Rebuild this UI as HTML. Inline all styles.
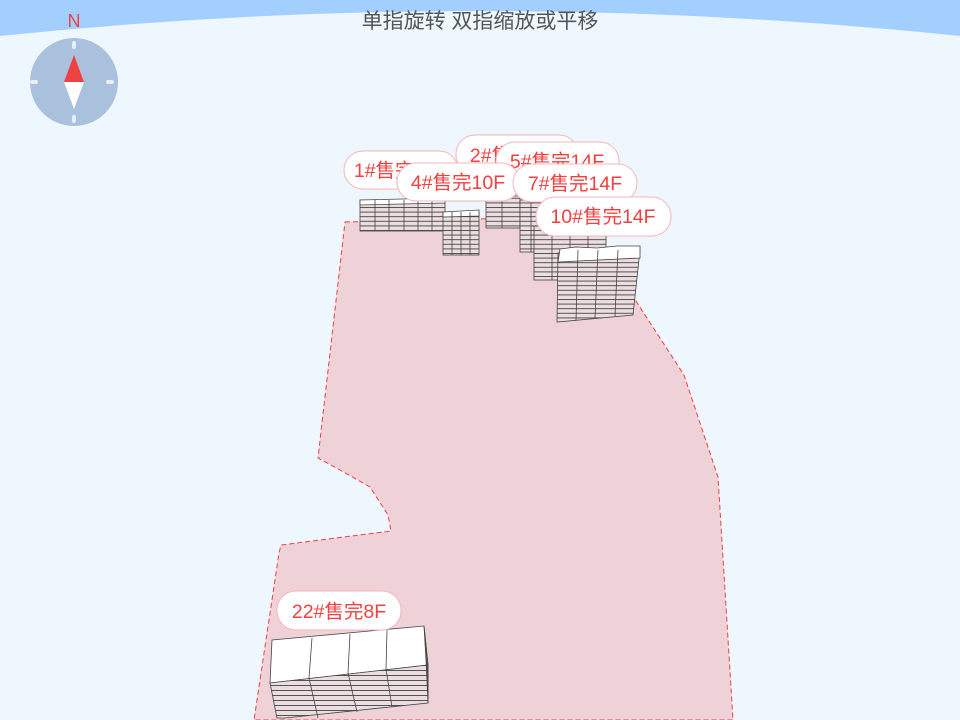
<!DOCTYPE html>
<html><head><meta charset="utf-8"><style>
html,body{margin:0;padding:0;width:960px;height:720px;overflow:hidden;background:#eef6fe;}
.t{font-family:"Liberation Sans","Noto Sans CJK SC",sans-serif;}
</style></head><body>
<svg width="960" height="720" viewBox="0 0 960 720" xmlns="http://www.w3.org/2000/svg">
<defs>
<pattern id="fl" width="12" height="4.6" patternUnits="userSpaceOnUse">
<rect width="12" height="4.6" fill="#ecdde0"/>
<line x1="0" y1="0.5" x2="12" y2="0.5" stroke="#444" stroke-width="0.9"/>
</pattern>
<pattern id="fl2" width="12" height="5" patternUnits="userSpaceOnUse">
<rect width="12" height="5" fill="#ecdde0"/>
<line x1="0" y1="0.5" x2="12" y2="0.5" stroke="#444" stroke-width="0.9"/>
</pattern>
</defs>
<rect width="960" height="720" fill="#eef6fe"/>
<path d="M0 0 H960 V36 Q480 -14 0 36 Z" fill="#a3cfff"/>
<text x="480" y="28" class="t" font-size="21" fill="#555" text-anchor="middle">单指旋转 双指缩放或平移</text>
<!-- compass -->
<text x="74" y="27" class="t" font-size="18" fill="#f04040" text-anchor="middle">N</text>
<circle cx="74" cy="82" r="44" fill="#a9c1dc"/>
<rect x="72" y="41" width="4" height="8" rx="2" fill="#e6eef6"/>
<rect x="72" y="115" width="4" height="8" rx="2" fill="#e6eef6"/>
<rect x="30" y="80" width="8" height="4" rx="2" fill="#e6eef6"/>
<rect x="106" y="80" width="8" height="4" rx="2" fill="#e6eef6"/>
<polygon points="74,55 84,82 64,82" fill="#f04040"/>
<polygon points="64,82 84,82 74,109" fill="#fff"/>
<!-- site -->
<polygon points="345,222 560,217 634,298 684,375 718,477 733,720 254,720 279,553 281,545 391,531 388,515 370,487 340,470 318,458" fill="#efd2d8" stroke="#f04040" stroke-width="1" stroke-dasharray="5,3"/>
<!-- buildings back -->
<g stroke="#444" stroke-width="0.8" fill="none">
<rect x="360" y="200" width="85" height="31" fill="url(#fl)"/>
<polygon points="360,200 445,198 445,203 360,205" fill="#fff"/>
<path d="M375 200V231M389 200V231M404 200V231M418 200V231M432 200V231"/>
<rect x="486" y="196" width="34" height="32" fill="url(#fl)"/>
<path d="M502 196V228"/>
<rect x="520" y="200" width="22" height="52" fill="url(#fl)"/>
<path d="M531 200V252"/>
<rect x="443" y="212" width="36" height="43" fill="url(#fl)"/>
<polygon points="443,212 479,210 479,216 443,217" fill="#fff"/>
<path d="M452 212V255M461 212V255M470 212V255"/>
<rect x="534" y="226" width="72" height="54" fill="url(#fl)"/>
<path d="M552 226V280M570 226V280M588 226V280"/>
<polygon points="558,253 640,250 633,315 557,322" fill="url(#fl)"/>
<polygon points="560,249 576,247 597,248 617,246 640,246 640,258 558,262" fill="#fff"/>
<path d="M578 250L576 320M598 250L595 318M618 250L615 316"/>
<!-- 22 -->
<polygon points="272,640 424,626 428,665 270,683" fill="#fff"/>
<polygon points="270,683 428,665 428,703 285,718 277,718" fill="url(#fl2)"/>
<polygon points="424,626 428,665 428,703 426,660" fill="#555"/>
<path d="M312 638L309 678 318 718M350 634L348 673 357 712M387 630L386 669 392 707"/>
</g>
<!-- labels -->
<g class="t" font-size="19.5" fill="#f04040" text-anchor="middle">
<rect x="344" y="151" width="114" height="38" rx="19" fill="#fff" stroke="#f6b4b8"/><text x="401" y="177">1#售完10F</text>
<rect x="456" y="135" width="122" height="39" rx="19" fill="#fff" stroke="#f6b4b8"/><text x="517" y="162">2#售完14F</text>
<rect x="496" y="142" width="123" height="38" rx="19" fill="#fff" stroke="#f6b4b8"/><text x="557" y="168">5#售完14F</text>
<rect x="397" y="163" width="123" height="38" rx="19" fill="#fff" stroke="#f6b4b8"/><text x="458" y="189">4#售完10F</text>
<rect x="513" y="164" width="124" height="38" rx="19" fill="#fff" stroke="#f6b4b8"/><text x="575" y="190">7#售完14F</text>
<rect x="536" y="197" width="135" height="39" rx="19" fill="#fff" stroke="#f6b4b8"/><text x="603" y="223">10#售完14F</text>
<rect x="277" y="591" width="124" height="39" rx="19" fill="#fff" stroke="#f6b4b8"/><text x="339" y="618">22#售完8F</text>
</g>
</svg>
</body></html>
